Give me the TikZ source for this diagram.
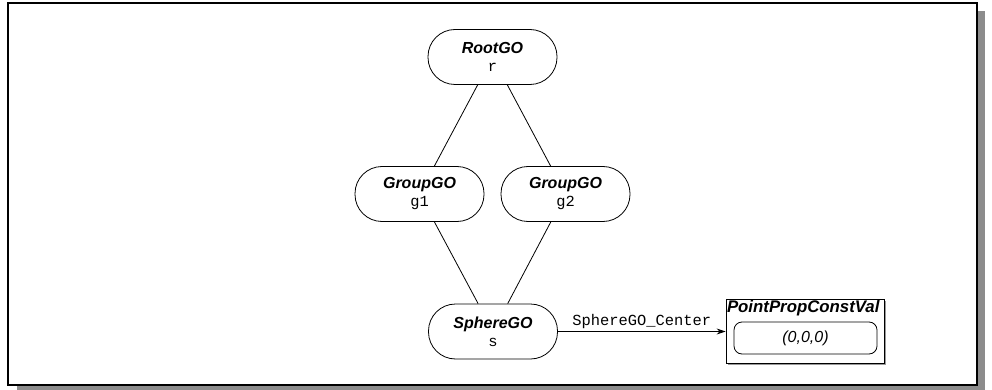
\documentclass[tikz,border=0pt]{standalone}
\usepackage{fontspec}
\setmainfont{Liberation Sans}
\setmonofont{Liberation Mono}
\usetikzlibrary{arrows.meta}

\tikzset{
  gonode/.style={draw, line width=0.8pt, rounded corners=27pt, minimum width=129pt,
    minimum height=55pt, align=center, inner sep=0pt,
    font=\fontsize{16}{17}\selectfont},
  propbox/.style={draw, line width=0.8pt, fill=white, minimum width=158pt, minimum height=64pt},
  valbox/.style={draw, line width=0.8pt, rounded corners=8pt, minimum width=143pt,
    minimum height=32pt, font=\fontsize{16}{18}\selectfont\itshape},
  titletext/.style={inner sep=1pt, font=\fontsize{16.8}{19}\selectfont\bfseries\itshape},
  reflabel/.style={font=\fontsize{15.4}{17}\selectfont\ttfamily, inner sep=2pt}
}
\newcommand{\goname}[2]{\textbf{\textit{#1}}\\[1pt]{\fontsize{15.4}{17}\selectfont\ttfamily #2}}

\begin{document}
\begin{tikzpicture}[x=1pt, y=-1pt, line width=0.8pt]
  \useasboundingbox (0,0) rectangle (992,390);
  % frame with shadow
  \fill[gray!90] (17,11) rectangle (985,395);
  \draw[fill=white, line width=1.2pt] (8,3) rectangle (977,385);

  % scene graph nodes
  \node[gonode] (root) at (492.5,57) {\goname{RootGO}{r}};
  \node[gonode] (g1) at (419.5,194) {\goname{GroupGO}{g1}};
  \node[gonode] (g2) at (565.5,194) {\goname{GroupGO}{g2}};
  \node[gonode] (s) at (493,331.5) {\goname{SphereGO}{s}};

  % property value
  \fill[gray!80] (728,301) rectangle (886,365);
  \node[propbox] (ppcv) at (805,331.5) {};
  \node[titletext, anchor=north west] (ttl) at (ppcv.north west) {PointPropConstVal};
  \node[valbox] (val) at (805.5,338) {(0,0,0)};

  \draw (root) -- (g1);
  \draw (root) -- (g2);
  \draw (g1) -- (s);
  \draw (g2) -- (s);
  \draw[-{Stealth[length=9pt,width=6pt]}] (s) -- node[reflabel, above] {SphereGO\_Center} (ppcv);
\end{tikzpicture}
\end{document}
